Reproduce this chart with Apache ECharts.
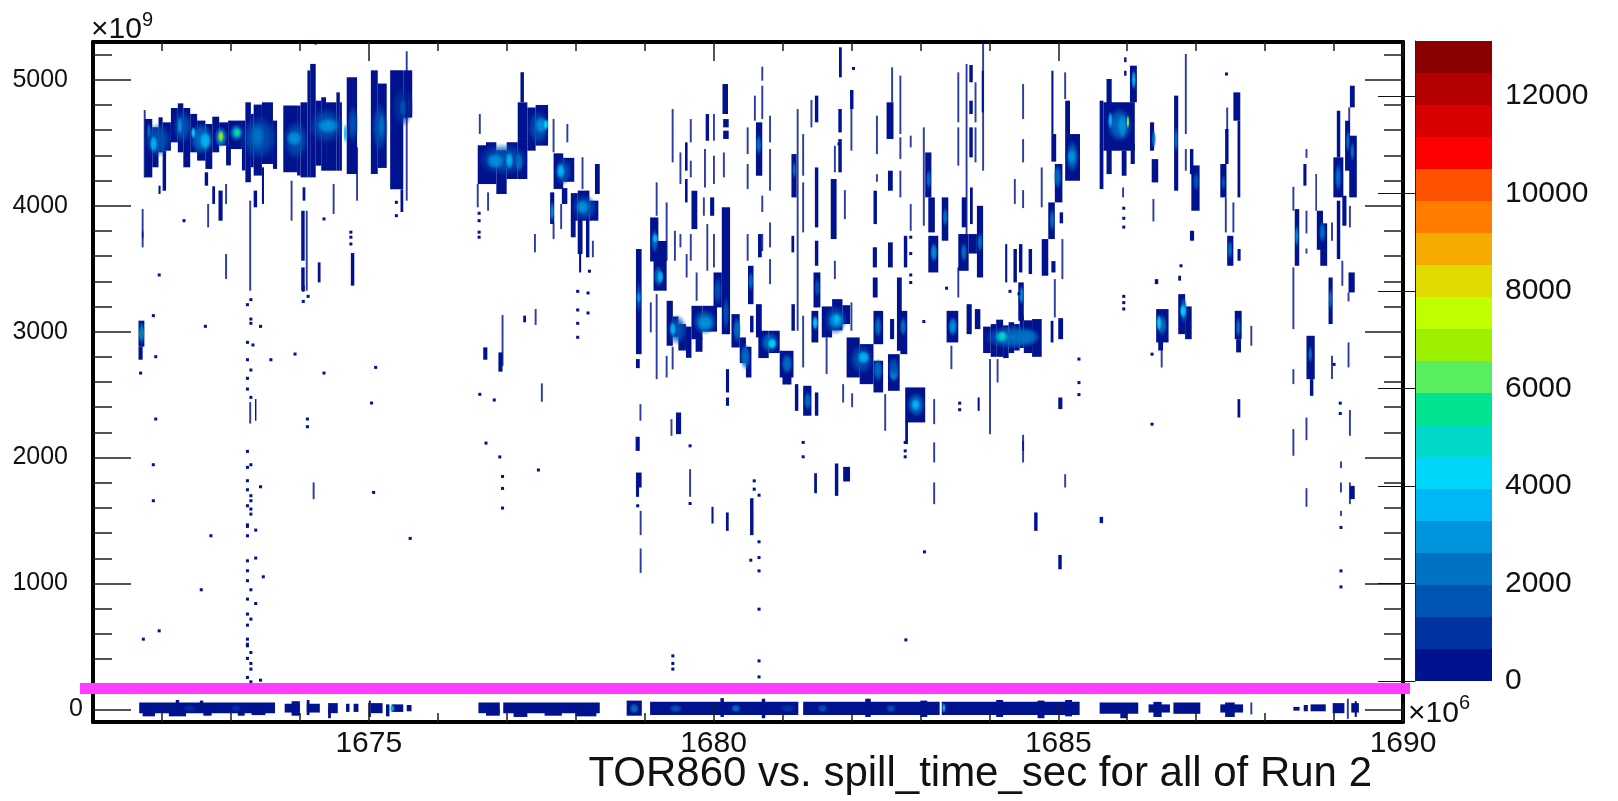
<!DOCTYPE html>
<html><head><meta charset="utf-8">
<style>html,body{margin:0;padding:0;background:#fff}#c{width:1618px;height:801px;filter:blur(0.5px)}</style>
<script src="https://cdn.jsdelivr.net/npm/echarts@6/dist/echarts.min.js"></script>
</head><body><div id="c"></div>
<script>
const titleText = 'TOR860 vs. spill_time_sec for all of Run 2';
const xMajor = [1675,1680,1685,1690];
const xMinor = [1672,1673,1674,1676,1677,1678,1679,1681,1682,1683,1684,1686,1687,1688,1689];
const yMajor = [0,1000,2000,3000,4000,5000];
const yLabelsWide = [1000,2000,3000,4000,5000];
const yLabelsNarrow = [0];
const yMinor = [200,400,600,800,1200,1400,1600,1800,2200,2400,2600,2800,3200,3400,3600,3800,4200,4400,4600,4800,5200];
const zTicks = [0,2000,4000,6000,8000,10000,12000];
const zMax = 13130;
const palette = ['#00128e','#0032a0','#0054b4','#0072c4','#0094dc','#00b8f6','#00d6fa','#00d8c8','#00e490','#58ee60','#9cf000','#c0ff00','#e0da00','#f4aa00','#ff7c00','#ff5200','#ff0000','#d80000','#b40000','#8b0000'];

// filled runs of bins: [xStart, xEnd, yLow, yHigh, count]
const blocks = [
[1671.75,1671.86,4225,4689,300],[1671.86,1671.95,4305,4623,300],[1671.95,1672.01,4424,4702,300],[1672.01,1672.13,4437,4662,300],[1672.01,1672.06,4119,4437,300],[1671.95,1671.98,4093,4159,300],
[1672.13,1672.23,4503,4776,300],[1672.23,1672.31,4424,4813,300],[1672.31,1672.41,4305,4776,300],[1672.41,1672.51,4424,4729,300],[1672.51,1672.63,4358,4676,300],[1672.63,1672.73,4292,4649,300],
[1672.73,1672.83,4424,4707,300],[1672.83,1672.96,4477,4662,300],[1672.93,1673.0,4320,4480,300],[1672.96,1673.16,4450,4676,300],[1673.16,1673.21,4280,4676,300],[1673.21,1673.29,4186,4821,300],[1673.29,1673.33,4305,4729,300],[1673.33,1673.45,4239,4803,300],[1673.45,1673.61,4331,4821,300],[1673.61,1673.67,4292,4676,300],
[1673.76,1673.96,4265,4795,300],[1673.96,1674.01,4240,4795,300],[1674.01,1674.11,4225,4821,300],[1674.11,1674.15,4225,5074,300],[1674.15,1674.23,4225,5126,300],[1674.23,1674.31,4318,4834,300],[1674.31,1674.38,4278,4861,300],[1674.38,1674.53,4278,4821,300],[1674.53,1674.58,4278,4900,300],[1674.58,1674.61,4278,4821,300],[1674.21,1674.25,5280,5300,200],
[1674.68,1674.83,4252,5020,300],[1675.03,1675.13,4252,5075,300],[1675.13,1675.26,4300,4970,300],[1675.31,1675.5,4130,5075,300],[1675.5,1675.63,4700,5075,300],[1675.46,1675.5,3950,4130,200],
[1676.58,1676.7,4172,4480,300],[1676.7,1676.85,4172,4504,300],[1676.85,1677.0,4093,4440,300],[1677.0,1677.16,4212,4504,300],[1677.16,1677.3,4212,4530,300],[1677.2,1677.25,4821,5060,300],[1677.16,1677.3,4530,4821,300],[1677.3,1677.42,4437,4780,300],[1677.42,1677.6,4477,4800,300],
[1677.68,1677.82,4133,4416,300],[1677.82,1677.98,4190,4380,300],[1677.8,1677.88,4014,4140,300],[1677.93,1678.03,3881,4100,300],[1678.03,1678.2,3881,4120,300],[1678.2,1678.33,3881,4040,300],[1678.28,1678.35,4093,4331,300],[1677.63,1677.69,3855,4106,300],[1677.93,1678.0,3749,3890,300],[1678.03,1678.1,3616,3890,300],[1678.05,1678.08,3470,3620,300],[1678.15,1678.2,3590,3890,300],
[1672.62,1672.67,4159,4265,300],[1672.73,1672.77,4014,4154,300],[1672.82,1672.88,3881,4120,300],[1673.33,1673.38,3987,4120,300],[1673.45,1673.48,4014,4305,300],[1674.04,1674.08,4040,4146,300],[1674.02,1674.07,3563,3960,300],[1674.02,1674.07,3325,3510,300],[1674.26,1674.3,3391,3550,300],[1674.74,1674.79,3365,3624,300],
[1671.66,1671.745,2880,3087,300],[1671.66,1671.72,2777,2880,300],[1673.35,1673.37,2293,2465,300],[1674.03,1674.07,3317,3365,300],
[1676.66,1676.72,2777,2875,300],[1676.88,1676.94,2682,2835,300],[1677.24,1677.28,3074,3127,300],
[1678.875,1678.957,2821,3656,300],[1678.875,1678.93,2710,2782,300],[1678.87,1678.93,2053,2165,300],[1678.875,1678.957,1762,1881,300],[1678.875,1678.92,1688,1770,300],
[1679.08,1679.2,3557,3907,300],[1679.13,1679.32,3325,3720,300],[1679.32,1679.41,2888,3245,300],[1679.41,1679.49,2960,3120,300],[1679.49,1679.6,2850,3060,300],[1679.6,1679.68,2792,3040,300],[1679.68,1679.84,2940,3205,300],[1679.84,1680.05,3000,3205,300],[1679.74,1679.84,2840,2950,300],
[1680.0,1680.12,3192,3470,300],[1680.12,1680.24,2980,3987,300],[1680.13,1680.21,4728,4966,300],[1680.14,1680.22,4622,4688,300],[1680.14,1680.22,4530,4596,300],[1680.26,1680.38,2874,3139,300],[1680.38,1680.47,2750,2954,300],[1680.47,1680.55,2636,2880,300],
[1680.5,1680.58,3218,3523,300],[1680.615,1680.7,2954,3218,300],[1680.615,1680.707,4238,4662,300],[1680.65,1680.8,2790,3007,300],[1680.8,1680.96,2830,3007,300],[1680.96,1681.16,2636,2848,300],[1681.0,1681.13,2580,2640,300],[1681.13,1681.205,4066,4410,300],[1681.13,1681.18,3007,3218,300],[1681.13,1681.17,3629,3761,300],
[1681.3,1681.42,2332,2570,300],[1681.18,1681.23,2371,2583,300],[1681.47,1681.52,2332,2517,300],[1681.47,1681.52,4662,4874,300],[1681.47,1681.52,3828,4304,300],[1681.47,1681.52,3523,3722,300],[1681.45,1681.55,3192,3470,300],[1681.42,1681.52,2914,3165,300],
[1681.57,1681.72,2954,3200,300],[1681.72,1681.87,3010,3258,300],[1681.87,1681.98,3060,3210,300],[1681.7,1681.785,3735,4212,300],[1681.81,1681.86,4582,4768,300],[1681.81,1681.86,4265,4529,300],[1681.82,1681.86,5019,5258,300],[1681.98,1682.03,4768,4919,300],
[1681.93,1682.12,2636,2954,300],[1682.12,1682.32,2583,2901,300],[1682.32,1682.46,2517,2769,300],[1682.32,1682.37,3854,4119,300],[1682.31,1682.37,3510,3670,300],[1682.31,1682.38,3271,3430,300],[1682.32,1682.46,2900,3165,300],
[1682.51,1682.61,4530,4821,300],[1682.53,1682.6,4119,4278,300],[1682.53,1682.6,3510,3709,300],[1682.56,1682.62,2940,3100,300],[1682.53,1682.7,2530,2821,300],[1682.66,1682.73,2848,3430,300],[1682.71,1682.81,2821,3165,300],[1682.76,1682.81,3510,3761,300],
[1682.78,1683.07,2279,2557,300],[1682.78,1682.82,2107,2290,300],[1683.07,1683.16,4066,4423,300],[1683.115,1683.21,3788,4066,300],[1683.115,1683.26,3470,3761,300],[1683.31,1683.405,3722,4066,300],[1683.38,1683.55,2914,3165,300],
[1683.55,1683.7,3483,3775,300],[1683.7,1683.82,3620,3775,300],[1683.82,1683.91,3430,3775,300],[1683.6,1683.67,3828,4066,300],[1683.72,1683.76,3854,4145,300],[1683.82,1683.91,3775,3999,300],[1683.67,1683.745,2980,3218,300],[1683.79,1683.87,3020,3179,300],[1683.89,1683.92,4741,5072,300],
[1683.71,1683.76,4980,5117,300],[1683.71,1683.76,4728,4834,300],[1683.71,1683.76,4384,4622,300],
[1683.91,1684.02,2830,3040,300],[1684.02,1684.1,2800,3060,300],[1684.1,1684.2,2800,3095,300],[1684.2,1684.28,2790,3050,300],[1684.28,1684.36,2830,3075,300],[1684.36,1684.44,2850,3060,300],[1684.44,1684.5,2870,3125,300],[1684.5,1684.62,2830,3090,300],[1684.62,1684.76,2800,3100,300],[1684.42,1684.5,3086,3391,300],
[1679.586,1679.624,4278,4503,300],[1679.586,1679.624,4026,4212,300],[1679.68,1679.765,3814,4119,300],[1679.886,1679.935,4516,4728,300],[1679.95,1680.01,3920,4066,300],[1680.645,1680.7,3590,3775,300],[1680.53,1680.58,2994,3126,300],
[1680.18,1680.225,2517,2702,300],[1680.18,1680.225,2411,2477,300],[1679.455,1679.53,2186,2358,300],[1681.88,1681.98,1810,1926,300],[1681.76,1681.81,1696,1953,300],[1679.97,1680.0,1476,1609,300],[1680.18,1680.22,1418,1564,300],[1680.53,1680.58,1384,1677,300],[1681.46,1681.5,1717,1876,300],[1684.65,1684.7,1418,1564,300],[1685.0,1685.05,1113,1227,300],[1685.6,1685.65,1479,1529,300],
[1684.23,1684.26,3391,3695,300],[1684.35,1684.4,3391,3656,300],[1684.43,1684.48,3470,3695,300],[1684.57,1684.62,3457,3656,300],[1683.83,1683.86,2371,2477,300],
[1684.9,1684.93,4569,5072,300],[1684.9,1684.97,4350,4569,300],[1684.95,1685.06,4026,4331,300],[1684.855,1684.95,3735,4026,300],[1685.02,1685.07,3860,3947,300],[1684.76,1684.855,3444,3735,300],[1684.9,1684.96,3470,3560,300],[1684.89,1684.93,2914,3086,300],[1685.0,1685.07,2940,3107,300],
[1685.1,1685.315,4198,4569,300],[1685.1,1685.17,4569,4834,300],[1685.0,1685.06,2385,2477,300],
[1685.6,1685.655,4132,4834,300],[1685.7,1685.775,4251,5006,300],[1685.655,1686.11,4437,4821,300],[1685.92,1685.99,4238,4437,300],[1686.05,1686.11,4331,4490,300],[1686.04,1686.14,4821,5112,300],[1685.955,1685.99,5140,5178,300],[1685.955,1685.99,5032,5072,300],
[1686.33,1686.39,4437,4662,300],[1686.355,1686.45,4185,4370,300],[1686.68,1686.74,4119,4874,300],[1686.91,1686.96,4250,4450,300],[1686.93,1687.05,3960,4320,300],[1686.91,1686.97,3722,3801,300],
[1687.35,1687.44,4066,4331,300],[1687.42,1687.47,4331,4609,300],[1687.54,1687.64,4675,4900,300],[1687.6,1687.64,4066,4675,300],[1687.45,1687.54,3523,3761,300],[1687.6,1687.645,3563,3656,300],
[1686.42,1686.6,2914,3179,300],[1686.45,1686.52,2850,2920,300],[1686.74,1686.84,2980,3298,300],[1686.84,1686.935,2940,3200,300],[1687.56,1687.66,2940,3165,300],[1687.58,1687.65,2835,2940,300],[1687.6,1687.64,2318,2464,300],[1686.4,1686.45,3377,3417,300],[1686.74,1686.78,3405,3444,300],
[1688.43,1688.495,3523,3973,300],[1688.555,1688.6,4159,4331,300],[1688.73,1688.75,3960,4251,300],[1688.75,1688.84,3650,3960,300],[1688.8,1688.9,3523,3860,300],[1689.04,1689.09,4384,4754,300],[1688.99,1689.135,4066,4384,300],[1689.04,1689.09,3576,4040,300],[1689.12,1689.18,3841,4079,300],
[1689.16,1689.23,4278,4675,300],[1689.22,1689.33,4066,4556,300],[1689.23,1689.3,4781,4953,300],[1688.92,1688.98,3060,3430,300],[1689.21,1689.3,3311,3470,300],[1688.6,1688.72,2623,2967,300],[1688.65,1688.7,2490,2623,300],[1689.23,1689.3,1670,1775,300]
];

// soft peaks inside the blobs: [xStart, xEnd, yLow, yHigh, count]
const peaks = [
[1671.74,1672.14,4380,4660,1500],[1671.82,1671.94,4420,4560,3400],[1671.78,1671.84,4530,4660,2100],
[1672.16,1672.44,4490,4760,1900],[1672.22,1672.3,4560,4710,3000],[1672.4,1672.75,4400,4660,2400],[1672.54,1672.72,4440,4590,3700],[1672.42,1672.49,4530,4630,4200],
[1672.76,1672.95,4460,4630,3000],[1672.81,1672.9,4500,4600,7000],[1672.98,1673.18,4510,4650,3000],[1673.03,1673.15,4540,4620,5600],
[1673.14,1673.68,4360,4720,1600],[1673.28,1673.49,4450,4650,2500],
[1673.75,1674.13,4360,4680,1600],[1673.8,1674.04,4470,4600,2900],[1674.12,1674.64,4490,4780,1800],[1674.24,1674.58,4570,4700,2900],[1674.63,1674.69,4490,4660,3400],[1674.69,1674.85,4500,4800,1800],
[1675.04,1675.28,4420,4820,1400],[1675.14,1675.23,4530,4740,2100],[1675.33,1675.65,4620,4950,1300],[1675.44,1675.55,4700,4850,1900],
[1676.58,1677.32,4240,4500,1600],[1676.7,1676.97,4290,4420,2800],[1676.98,1677.1,4290,4430,3700],[1677.12,1677.24,4260,4430,2400],
[1677.3,1677.62,4480,4760,1800],[1677.4,1677.6,4570,4710,3200],[1677.53,1677.61,4600,4690,4400],
[1677.68,1677.95,4160,4380,1900],[1677.72,1677.85,4210,4340,3500],[1677.94,1678.32,3880,4090,1900],[1678.0,1678.2,3930,4050,3200],[1677.63,1677.69,3870,4040,2800],
[1678.87,1678.96,3140,3400,1800],[1678.88,1678.95,3220,3320,3200],
[1679.09,1679.2,3620,3820,2100],[1679.13,1679.27,3350,3530,2400],[1679.11,1679.2,3700,3780,3300],[1679.18,1679.28,3380,3490,3600],
[1679.33,1679.62,2890,3140,1800],[1679.36,1679.46,2960,3080,3400],[1679.7,1680.05,2970,3180,2200],[1679.76,1680.0,3010,3130,2900],[1680.0,1680.12,3210,3440,1900],[1680.13,1680.23,3010,3280,1800],
[1680.28,1680.4,2910,3120,2300],[1680.38,1680.54,2690,2910,2100],[1680.61,1680.7,4400,4570,2200],[1680.5,1680.58,3320,3480,2200],
[1680.68,1680.95,2830,3000,2400],[1680.78,1680.92,2860,2950,4200],[1680.98,1681.15,2660,2830,2200],[1681.14,1681.2,4210,4360,2200],
[1681.31,1681.42,2370,2530,2400],[1681.43,1681.52,3010,3130,4500],[1681.46,1681.55,3270,3430,1900],
[1681.6,1681.94,2970,3210,1900],[1681.66,1681.9,3020,3160,2900],[1681.73,1681.84,3050,3140,3700],
[1681.97,1682.32,2660,2900,1900],[1682.08,1682.27,2740,2850,3600],[1682.31,1682.46,2600,2790,2500],[1682.33,1682.44,2950,3130,2100],
[1682.54,1682.69,2600,2730,3100],[1682.53,1682.7,2640,2800,1900],[1682.7,1682.8,2960,3120,2500],
[1682.8,1683.07,2320,2520,2100],[1682.86,1683.0,2370,2470,3300],[1683.08,1683.16,4130,4290,2000],[1683.14,1683.25,3550,3710,3000],[1683.32,1683.4,3830,3990,2400],[1683.4,1683.54,2960,3120,2700],
[1683.58,1683.68,3550,3710,2300],[1683.82,1683.91,3630,3790,2600],
[1683.92,1684.76,2860,3050,2000],[1684.08,1684.28,2910,3010,3800],[1684.14,1684.24,2930,3000,5300],[1684.38,1684.72,2890,3030,2600],[1684.43,1684.5,3210,3370,3100],
[1684.93,1685.05,4130,4330,2100],[1684.87,1684.95,3790,3980,2000],[1685.11,1685.3,4260,4520,2100],[1685.13,1685.26,4330,4450,3200],
[1685.7,1686.08,4500,4780,2100],[1685.72,1685.79,4610,4750,3800],[1685.86,1686.0,4530,4730,3000],[1685.99,1686.03,4610,4720,7500],[1686.06,1686.13,4920,5080,3400],
[1686.35,1686.42,4450,4610,2100],[1686.68,1686.74,4420,4630,2600],[1686.95,1687.05,4110,4270,1900],[1687.36,1687.43,4120,4250,1500],[1687.45,1687.53,3570,3730,2000],[1686.43,1686.58,2960,3140,2200],[1686.42,1686.5,3000,3140,4100],[1686.76,1686.88,3060,3280,2200],[1686.76,1686.86,3110,3220,4000],[1687.57,1687.65,2950,3120,2600],
[1688.43,1688.49,3670,3850,3000],[1688.78,1688.88,3700,3880,2300],[1689.01,1689.11,4110,4340,2600],[1689.17,1689.23,4420,4610,2000],[1689.23,1689.3,4350,4510,2400],[1688.92,1688.98,3170,3350,2200],[1688.62,1688.69,2750,2890,2200],
[1671.66,1671.75,2930,3040,5800],[1671.66,1671.75,2890,3090,2600],[1671.7,1671.74,3720,3820,1500]
];

// single-bin vertical runs: [x, yLow, yHigh]
const stripes = [
[1671.75,4225,4760],[1671.72,3669,3974],[1672.67,3828,4014],[1672.93,3418,3616],[1672.93,4014,4173],[1673.28,3325,4040],[1673.28,2270,2440],[1673.88,3881,4199],[1674.1,3325,3960],[1674.2,1670,1803],[1674.49,3934,4173],[1674.83,4040,4464],[1675.55,4040,5226],[1676.61,4570,4729],[1676.58,3987,4172],[1676.73,3960,4106],[1676.94,2729,3132],[1677.41,3630,3775],[1677.42,3053,3180],[1677.51,2443,2589],
[1677.68,4424,4689],[1677.88,4503,4649],[1677.68,3735,3860],[1677.79,3815,4014],[1678.1,4133,4385],[1678.25,3590,3722],
[1678.943,1384,1577],[1678.943,1084,1278],[1678.94,2292,2424],[1679.39,2173,2305],[1679.66,1688,1908],[1679.175,3920,4185],[1679.175,2623,3298],[1679.32,3563,4026],[1679.32,2636,2808],[1679.09,2994,3232],[1679.407,4344,4768],[1679.407,2700,2880],[1679.44,3563,3801],[1679.52,4172,4423],[1679.52,3669,3775],[1679.67,4503,4688],[1679.67,4225,4357],[1679.67,3563,3775],[1679.61,3430,3616],[1679.755,3245,3470],[1679.91,3483,3854],[1680.006,4516,4728],[1680.006,4172,4397],[1680.006,3510,3775],[1679.876,4145,4450],[1679.86,3920,4066],[1680.15,4225,4423],[1680.495,4410,4622],[1680.495,4132,4331],[1680.495,3563,3775],[1680.6,4675,4874],[1680.707,4993,5104],[1680.707,4688,4953],[1680.707,3950,4080],[1680.707,3640,3775],[1680.82,4503,4715],[1680.82,4119,4450],[1680.82,3669,3867],[1680.82,3377,3576],[1681.22,3007,4768],[1681.3,4238,4569],[1681.3,3788,4185],[1681.3,2716,3126],[1681.42,4622,4840],[1681.64,2663,2954],[1681.76,4265,4476],[1681.76,3417,3563],[1681.905,3894,4124],[1682,3007,3232],[1682.0,4437,4768],[1681.88,2437,2583],[1682.01,2400,2510],[1682.37,4410,4715],[1682.37,4190,4250],[1682.49,2212,2504],[1682.59,4821,5099],[1682.71,4569,5033],[1682.71,4370,4543],[1682.71,4066,4278],[1682.86,4463,4556],[1682.86,3801,4013],[1683.05,3841,4622],[1683.2,2265,2464],[1683.2,1961,2120],[1683.2,1630,1802],[1683.45,2702,2888],[1683.55,4662,5059],[1683.55,4318,4622],[1683.55,3271,3510],[1683.67,3775,5125],[1683.8,4662,4980],[1683.8,4344,4622],[1683.91,4278,5284],[1684.01,2186,2782],[1684.12,2596,2782],[1684.49,4688,4966],[1684.49,4344,4529],[1684.49,3981,4124],[1684.49,2053,2181],[1684.49,1961,2133],[1684.37,4013,4212],[1684.76,3987,4304],[1685.1,4847,5059],[1685.06,3417,3735],[1684.95,3113,3417],[1685.1,1762,1868],
[1685.94,4066,4145],[1686.38,3875,4053],[1686.5,2715,2861],[1686.85,4569,5205],[1686.85,4278,4450],[1687.43,3788,4066],[1687.54,3788,4026],[1687.8,2888,3046],[1687.45,4600,4780],[1688.41,3960,4150],[1688.41,3020,3510],[1688.41,2583,2702],[1688.41,2014,2226],[1688.6,4380,4450],[1688.6,3780,3960],[1688.6,3620,3660],[1688.6,1609,1757],[1688.6,2138,2318],[1688.97,3722,3867],[1688.97,2623,2808],[1689.12,3364,3563],[1689.23,3828,3999],[1689.22,4580,4781],[1689.21,2716,2914],[1689.23,2173,2377],[1689.1,1916,1969],[1689.1,1723,1802],[1689.1,1537,1577],[1689.23,1630,1802],[1689.21,3240,3311],[1687.8,-40,55],[1689.2,-75,85]
];

// isolated single cells: [x, y]
const dots = [
[1671.875,3127],[1672.63,3042],[1671.91,2801],[1671.69,2671],[1671.91,2306],[1671.875,1943],[1671.875,1657],[1672.57,950],[1671.96,624],[1671.73,558],[1672.71,1379],[1672.32,3881],[1671.96,3450],
[1673.24,3214],[1673.29,3254],[1673.29,3100],[1673.29,3066],[1673.24,2915],[1673.24,2777],[1673.29,2695],[1673.24,2629],[1673.24,2544],[1673.29,2478],[1673.24,2049],[1673.29,1943],[1673.24,1922],[1673.24,1816],[1673.24,1744],[1673.29,1697],[1673.29,1657],[1673.24,1617],[1673.29,1591],[1673.29,1551],[1673.24,1453],[1673.24,1465],[1673.24,1379],[1673.24,1180],[1673.24,1101],[1673.24,1022],[1673.29,950],[1673.24,876],[1673.36,841],[1673.24,757],[1673.29,717],[1673.24,669],[1673.24,558],[1673.24,505],[1673.24,517],[1673.29,452],[1673.24,405],[1673.29,365],[1673.29,320],[1673.24,254],[1673.29,219],
[1673.43,3042],[1673.32,2894],[1673.58,2777],[1673.93,2822],[1674.35,2671],[1675.1,2716],[1675.04,2433],[1674.11,2306],[1674.11,2245],[1673.36,1424],[1673.36,1202],[1673.47,1053],[1673.43,1768],[1673.43,232],[1675.07,1723],[1675.6,1358],[1674.05,3240],[1674.12,3280],[1675.4,4027],[1675.4,3921],[1674.35,3895],[1674.74,3790],[1674.74,3750],[1674.74,3696],
[1676.61,2502],[1676.82,2457],[1676.7,2115],[1676.94,1850],[1676.94,1755],[1676.94,1599],[1676.9,2005],[1677.46,1901],[1676.6,3940],[1676.6,3881],[1676.6,3790],[1676.6,3750],[1678.18,3307],[1678.18,3148],[1678.03,3320],[1678.03,3172],[1678.03,3066],[1678.03,2955],[1678.2,3480],
[1679.66,2093],[1679.66,1635],[1680.66,1701],[1680.66,1206],[1680.66,1100],[1680.66,796],[1682.79,552],[1680.66,385],[1680.66,258],[1679.41,425],[1679.41,365],[1679.41,320],[1680.54,1185],[1680.66,1331],[1680.59,1815],[1680.59,1749],[1681.3,2120],[1681.3,2006],[1682.78,2053],[1682.78,2006],[1682.78,2120],[1683.06,1251],[1678.9,1617],
[1683.38,3345],[1683.57,2432],[1683.57,2380],[1682.03,5090],[1681.82,4490],[1684.43,3300],[1684.3,3320],[1685.3,2782],[1685.3,2595],[1685.3,2500],[1686.36,2821],[1686.36,2265],[1687.44,5046],[1686.78,3523],[1689.09,2432],[1689.09,2350],[1689.0,2740],[1689.1,1445],[1689.1,1100],[1689.1,973],[1682.86,3750],[1682.86,3620],[1682.86,3450],[1682.86,3390],[1683.05,3080],[1685.95,3980],[1685.95,3900],[1685.95,3830],[1685.95,3280],[1685.95,3230],[1685.95,3180]
];

// the dense row around zero: [xStart, xEnd, yLow, yHigh, count]
const zeroRow = [
[1671.67,1673.64,-30,55,500],[1671.72,1671.9,-55,0,400],[1672.1,1672.35,-55,0,400],[1672.6,1672.72,-50,0,400],[1673.1,1673.2,-50,0,400],[1673.3,1673.5,-45,0,400],[1672.2,1672.25,50,75,300],[1672.55,1672.6,50,70,300],
[1673.78,1674.0,-25,45,500],[1673.88,1674.0,-50,65,400],[1674.1,1674.29,-25,45,500],[1674.1,1674.14,-45,75,400],[1674.41,1674.55,-30,50,400],[1674.41,1674.45,-70,0,300],[1674.67,1674.72,-20,45,400],[1674.78,1674.85,-20,45,400],[1675.0,1675.03,-60,70,300],[1675.03,1675.2,-30,50,500],[1675.25,1675.3,-55,40,400],[1675.33,1675.5,-20,40,400],[1675.55,1675.62,-15,35,300],
[1676.59,1676.9,-30,55,500],[1676.7,1676.9,-50,0,400],[1676.95,1678.35,-30,55,500],[1677.1,1677.3,-60,0,400],[1677.55,1677.8,-50,0,400],[1678.0,1678.3,-55,0,400],
[1678.74,1678.96,-50,70,500],[1679.08,1681.23,-45,60,600],[1680.1,1680.15,-60,90,500],[1680.7,1680.75,-70,85,500],
[1681.3,1683.28,-45,60,600],[1682.2,1682.28,-60,85,500],[1683.0,1683.1,-60,70,500],[1683.31,1685.31,-45,60,600],[1684.1,1684.2,-60,75,500],[1684.7,1684.8,-70,70,500],[1685.1,1685.2,-55,75,500],
[1685.6,1686.16,-35,55,500],[1685.9,1686.0,-70,0,400],[1686.31,1686.62,-25,40,500],[1686.38,1686.5,-60,60,400],[1686.67,1687.06,-35,55,500],[1687.35,1687.68,-25,40,500],[1687.42,1687.56,-60,55,400],[1688.41,1688.5,-10,20,300],[1688.56,1688.62,-15,35,300],[1688.66,1688.88,-15,40,300],[1688.98,1689.15,-30,50,400],[1689.25,1689.36,-25,50,400],[1689.3,1689.33,-60,65,300]
];
const zeroPeaks = [[1678.78,1678.92,-35,50,2000],[1679.35,1679.55,-25,40,1500],[1680.25,1680.4,-25,40,2000],[1680.95,1681.2,-25,40,1300],[1681.5,1681.66,-25,40,1600],[1682.5,1682.65,-25,40,1700],[1683.31,1683.37,-30,55,3400],[1673.0,1673.15,-25,40,1300],[1675.3,1675.38,-25,40,3500],[1672.3,1672.5,-20,35,1100]];

const STRIPE_HALF = 0.014, DOT_HALF_X = 0.022, DOT_HALF_Y = 12;
const stripeCells = stripes.map(s => [s[0]-STRIPE_HALF, s[0]+STRIPE_HALF, s[1], s[2], 250]);
const dotCells = dots.map(d => [d[0]-DOT_HALF_X, d[0]+DOT_HALF_X, d[1]-DOT_HALF_Y, d[1]+DOT_HALF_Y, 200]);

const BAND = zMax / palette.length;
const colorOf = c => palette[Math.min(palette.length-1, Math.floor(c / BAND))];
function rectItem(params, api) {
  const a = api.coord([api.value(0), api.value(3)]);
  const b = api.coord([api.value(1), api.value(2)]);
  return { type:'rect', shape:{x:a[0], y:a[1], width:b[0]-a[0], height:b[1]-a[1]},
           style:{ fill: colorOf(api.value(4)) } };
}
function thinItem(params, api) {
  const r = rectItem(params, api);
  r.style.opacity = 0.82;
  return r;
}
function peakItem(params, api) {
  const a = api.coord([api.value(0), api.value(3)]);
  const b = api.coord([api.value(1), api.value(2)]);
  const c = colorOf(api.value(4));
  return { type:'circle', shape:{cx:0, cy:0, r:1}, x:(a[0]+b[0])/2, y:(a[1]+b[1])/2,
           scaleX:(b[0]-a[0])/2, scaleY:(b[1]-a[1])/2,
           style:{ fill:new echarts.graphic.RadialGradient(0.5,0.5,0.5,[
             {offset:0, color:c},
             {offset:0.55, color:echarts.color.modifyAlpha(c,0.75)},
             {offset:1, color:echarts.color.modifyAlpha(c,0)}]) } };
}
const tickLine = {color:'#1c1c1c', width:1.5};
const FONT = 'Liberation Sans';
const plain = v => String(v);
const xA = (pos, vals, len, labels) => ({
  type:'value', gridIndex:0, position:pos, min:1671, max:1690, z:5,
  splitLine:{show:false},
  axisLine:{show:labels!==undefined || len>10, onZero:false, lineStyle:{color:'#000', width:4}},
  axisTick:{show:true, inside:true, length:len, customValues:vals, lineStyle:tickLine},
  axisLabel:{show:!!labels, customValues:vals, formatter:plain, margin:7, fontFamily:FONT, fontSize:30, color:'#111'}
});
const yA = (pos, vals, len, labelVals, margin) => ({
  type:'value', gridIndex:0, position:pos, min:-100, max:5300, z:5,
  splitLine:{show:false},
  axisLine:{show:len>25, onZero:false, lineStyle:{color:'#000', width:4}},
  axisTick:{show:true, inside:true, length:len, customValues:vals, lineStyle:tickLine},
  axisLabel:{show:!!labelVals, customValues:labelVals||vals, formatter:plain, margin:margin||25, fontFamily:FONT, fontSize:25, color:'#111'}
});
const dataSeries = (data, renderItem) => ({type:'custom', xAxisIndex:0, yAxisIndex:0, data, encode:{x:[0,1], y:[2,3]}, renderItem, silent:true, clip:true});

const chart = echarts.init(document.getElementById('c'), null, {renderer:'canvas'});
chart.setOption({
  animation:false,
  backgroundColor:'#fff',
  title:{text:titleText, right:241, top:748, textStyle:{fontFamily:FONT, fontSize:42, fontWeight:'normal', color:'#111'}},
  grid:[
    {left:93, top:42, width:1310, height:680},
    {left:1415, top:41, width:77, height:640}
  ],
  xAxis:[
    xA('bottom', xMajor, 19, true), xA('bottom', xMinor, 9), xA('top', xMajor, 19), xA('top', xMinor, 9),
    {type:'value', gridIndex:1, min:0, max:1, show:false}
  ],
  yAxis:[
    yA('left', yMajor, 38, yLabelsWide, 25), yA('left', yMinor, 19, yLabelsNarrow, 10), yA('right', yMajor, 38), yA('right', yMinor, 19),
    {type:'value', gridIndex:1, position:'right', min:0, max:zMax, z:5, splitLine:{show:false},
     axisLine:{show:true, lineStyle:{color:'#222', width:1}},
     axisTick:{show:true, inside:true, length:37, customValues:zTicks, lineStyle:{color:'#111', width:1.2}},
     axisLabel:{customValues:zTicks, formatter:plain, margin:13, padding:[5,0,0,0], fontFamily:FONT, fontSize:30, color:'#111'}}
  ],
  series:[
    dataSeries(blocks, rectItem),
    dataSeries(zeroRow, rectItem),
    dataSeries(peaks, peakItem),
    dataSeries(zeroPeaks, peakItem),
    dataSeries(stripeCells, thinItem),
    dataSeries(dotCells, rectItem),
    {type:'custom', xAxisIndex:4, yAxisIndex:4, silent:true,
     data:palette.map((c,i)=>[0,1,i*BAND,(i+1)*BAND,(i+0.5)*BAND]), encode:{x:[0,1], y:[2,3]},
     renderItem:rectItem}
  ],
  graphic:[
    {type:'rect', z:100, shape:{x:80, y:683, width:1330, height:11}, style:{fill:'#ff3cff'}},
    {type:'text', z:100, left:91, top:15, style:{text:'×10', fontFamily:FONT, fontSize:30, fill:'#111'}},
    {type:'text', z:100, left:142, top:10, style:{text:'9', fontFamily:FONT, fontSize:20, fill:'#111'}},
    {type:'text', z:100, left:1408, top:699, style:{text:'×10', fontFamily:FONT, fontSize:30, fill:'#111'}},
    {type:'text', z:100, left:1459, top:693, style:{text:'6', fontFamily:FONT, fontSize:20, fill:'#111'}}
  ]
});
</script></body></html>
